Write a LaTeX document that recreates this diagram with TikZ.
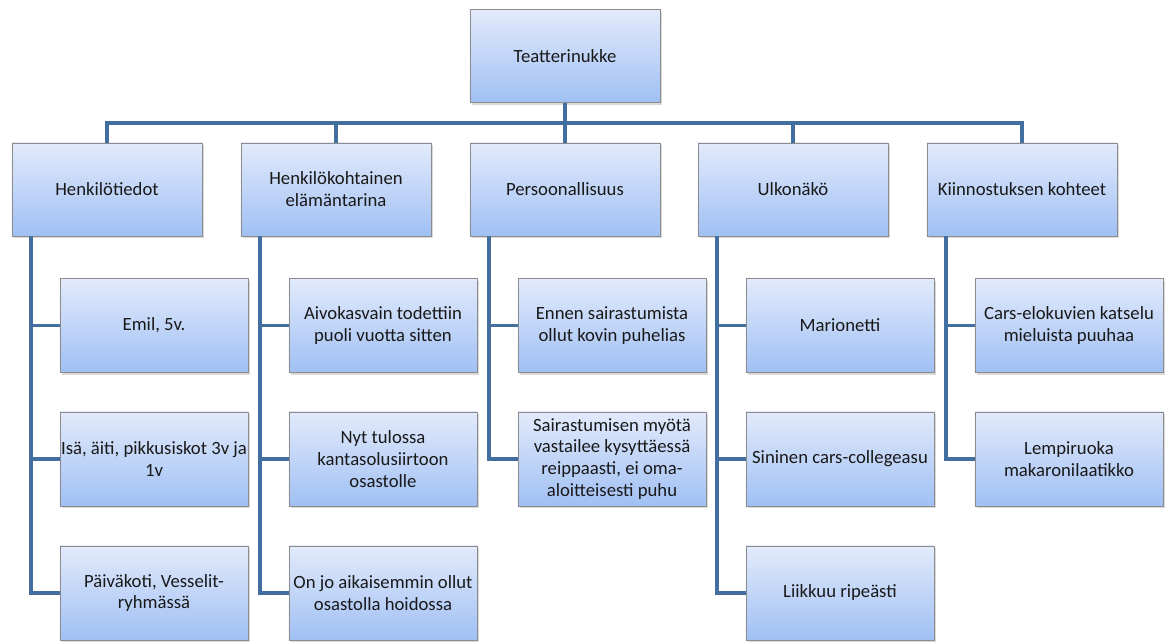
\documentclass[tikz,border=0pt]{standalone}
\usepackage{fontspec}
\setmainfont{Carlito}
\usetikzlibrary{shadows}
\definecolor{linja}{RGB}{66,111,160}
\definecolor{ylä}{RGB}{226,234,251}
\definecolor{ala}{RGB}{160,192,244}
\tikzset{every node/.style={rectangle,draw=black!45,line width=0.6pt,top color=ylä,bottom color=ala,align=center,inner sep=0pt,
  drop shadow={opacity=0.3,shadow xshift=1.5pt,shadow yshift=-1.5pt},text=black!90}}
\tikzset{ylin/.style={minimum width=4.75cm,minimum height=2.325cm}}
\tikzset{lapsi/.style={minimum width=4.7cm,minimum height=2.35cm}}
\tikzset{yht/.style={draw=linja,line width=2.8pt}}
\begin{document}
\begin{tikzpicture}[x=0.025cm,y=-0.025cm,font=\fontsize{13.3}{15.6}\selectfont]
\useasboundingbox (0,0) rectangle (1172,644);
\coordinate (vaylä) at (565,123);
\node[ylin](nukke) at (565,56) {Teatterinukke};
\node[ylin](tiedot) at (107,189.5) {Henkilötiedot};
\node[ylin](tarina) at (336,189.5) {Henkilökohtainen\\elämäntarina};
\node[ylin](persoona) at (565,189.5) {Persoonallisuus};
\node[ylin](ulko) at (793,189.5) {Ulkonäkö};
\node[ylin](kiinnostus) at (1022,189.5) {Kiinnostuksen kohteet};

\node[lapsi](emil) at (154,325.5) {Emil, 5v.};
\node[lapsi](perhe) at (154,459) {Isä, äiti, pikkusiskot 3v ja\\1v};
\node[lapsi](paivakoti) at (154,593) {Päiväkoti, Vesselit-\\ryhmässä};
\node[lapsi](kasvain) at (383,325.5) {Aivokasvain todettiin\\puoli vuotta sitten};
\node[lapsi](siirto) at (383,459) {Nyt tulossa\\kantasolusiirtoon\\osastolle};
\node[lapsi](hoito) at (383,593) {On jo aikaisemmin ollut\\osastolla hoidossa};
\node[lapsi](puhelias) at (612,325.5) {Ennen sairastumista\\ollut kovin puhelias};
\node[lapsi](vastailee) at (612,459) {Sairastumisen myötä\\vastailee kysyttäessä\\reippaasti, ei oma-\\aloitteisesti puhu};
\node[lapsi](marionetti) at (840,325.5) {Marionetti};
\node[lapsi](asu) at (840,459) {Sininen cars-collegeasu};
\node[lapsi](ripea) at (840,593) {Liikkuu ripeästi};
\node[lapsi](elokuvat) at (1069,325.5) {Cars-elokuvien katselu\\mieluista puuhaa};
\node[lapsi](ruoka) at (1069,459) {Lempiruoka\\makaronilaatikko};

\draw[yht] (nukke) -- (vaylä);
\draw[yht] (vaylä) -| (tiedot);
\draw[yht] (vaylä) -| (tarina);
\draw[yht] (vaylä) -- (persoona);
\draw[yht] (vaylä) -| (ulko);
\draw[yht] (vaylä) -| (kiinnostus);
\draw[yht] ([xshift=0.475cm]tiedot.south west) |- (emil);
\draw[yht] ([xshift=0.475cm]tiedot.south west) |- (perhe);
\draw[yht] ([xshift=0.475cm]tiedot.south west) |- (paivakoti);
\draw[yht] ([xshift=0.475cm]tarina.south west) |- (kasvain);
\draw[yht] ([xshift=0.475cm]tarina.south west) |- (siirto);
\draw[yht] ([xshift=0.475cm]tarina.south west) |- (hoito);
\draw[yht] ([xshift=0.475cm]persoona.south west) |- (puhelias);
\draw[yht] ([xshift=0.475cm]persoona.south west) |- (vastailee);
\draw[yht] ([xshift=0.475cm]ulko.south west) |- (marionetti);
\draw[yht] ([xshift=0.475cm]ulko.south west) |- (asu);
\draw[yht] ([xshift=0.475cm]ulko.south west) |- (ripea);
\draw[yht] ([xshift=0.475cm]kiinnostus.south west) |- (elokuvat);
\draw[yht] ([xshift=0.475cm]kiinnostus.south west) |- (ruoka);
\end{tikzpicture}
\end{document}
